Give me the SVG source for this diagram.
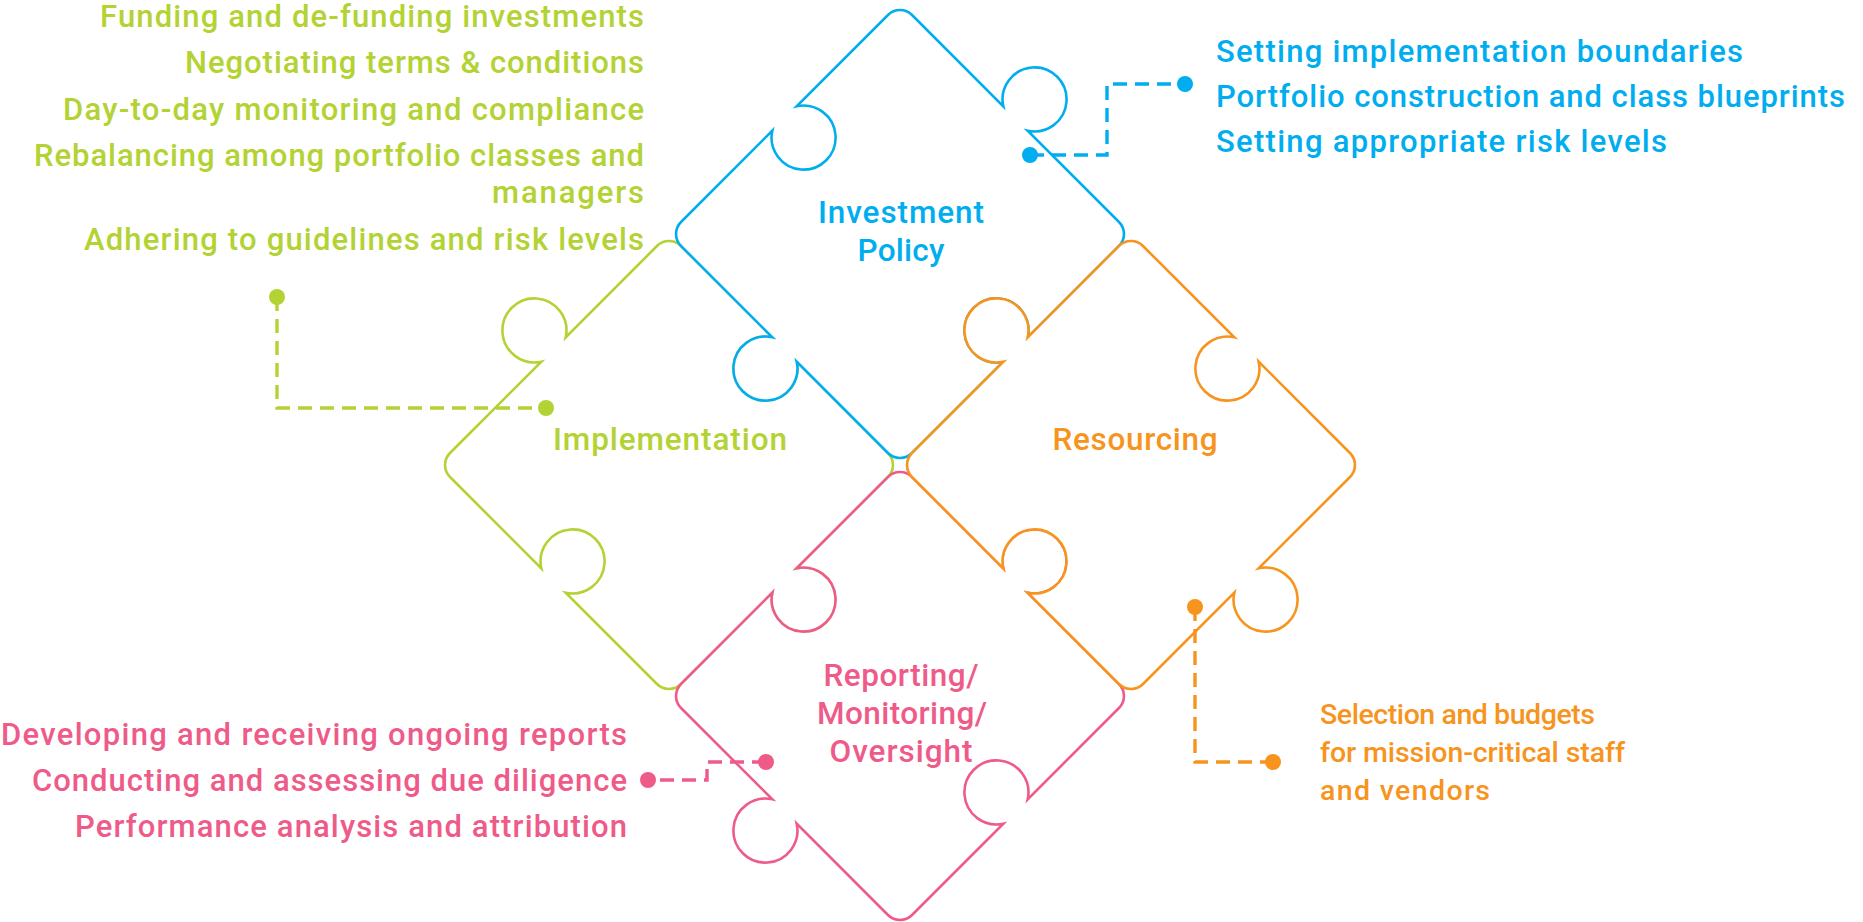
<svg xmlns="http://www.w3.org/2000/svg" xmlns:xlink="http://www.w3.org/1999/xlink" width="1863" height="922" viewBox="0 0 1863 922">
  <defs>
    <style>
      .piece { fill: #ffffff; stroke-width: 2.6; stroke-linejoin: miter; }
      .txt { font-family: Roboto, "Liberation Sans", Arial, sans-serif; font-weight: 500; font-size: 31px; }
      .txt-sm { font-family: Roboto, "Liberation Sans", Arial, sans-serif; font-weight: 500; font-size: 28.5px; }
      .label { font-family: Roboto, "Liberation Sans", Arial, sans-serif; font-weight: 500; font-size: 31.5px; text-anchor: middle; }
      .dash { fill: none; stroke-width: 3.4; stroke-dasharray: 14 8; }
      .blue { fill: #00aeef; } .blue-s { stroke: #00aeef; }
      .green { fill: #b3d234; } .green-s { stroke: #b3d234; }
      .orange { fill: #f7941d; } .orange-s { stroke: #f7941d; }
      .pink { fill: #ef5b89; } .pink-s { stroke: #ef5b89; }
    </style>
    <!-- piece outline: tab on upper-right & lower-left edges, socket on the others -->
    <path id="shapeA" d="M12.02,-218.98 L103.34,-127.66 A32,32 0 1 1 127.66,-103.34 L218.98,-12.02 A17,17 0 0 1 218.98,12.02 L127.66,103.34 A32,32 0 1 0 103.34,127.66 L12.02,218.98 A17,17 0 0 1 -12.02,218.98 L-103.34,127.66 A32,32 0 1 1 -127.66,103.34 L-218.98,12.02 A17,17 0 0 1 -218.98,-12.02 L-127.66,-103.34 A32,32 0 1 0 -103.34,-127.66 L-12.02,-218.98 A17,17 0 0 1 12.02,-218.98 Z"/>
    <!-- piece outline: tab on lower-right & upper-left edges, socket on the others -->
    <path id="shapeB" d="M12.02,-218.98 L103.34,-127.66 A32,32 0 1 0 127.66,-103.34 L218.98,-12.02 A17,17 0 0 1 218.98,12.02 L127.66,103.34 A32,32 0 1 1 103.34,127.66 L12.02,218.98 A17,17 0 0 1 -12.02,218.98 L-103.34,127.66 A32,32 0 1 0 -127.66,103.34 L-218.98,12.02 A17,17 0 0 1 -218.98,-12.02 L-127.66,-103.34 A32,32 0 1 1 -103.34,-127.66 L-12.02,-218.98 A17,17 0 0 1 12.02,-218.98 Z"/>
  </defs>

  <!-- puzzle pieces -->
  <g id="implementation">
    <use xlink:href="#shapeB" href="#shapeB" class="piece green-s" transform="translate(669,465)"/>
    <text class="label green" x="670" y="450" textLength="234">Implementation</text>
  </g>
  <g id="investment-policy">
    <use xlink:href="#shapeA" href="#shapeA" class="piece blue-s" transform="translate(900,234)"/>
    <text class="label blue" x="901" y="223" textLength="166">Investment</text>
    <text class="label blue" x="901" y="261" textLength="87">Policy</text>
  </g>
  <g id="reporting">
    <use xlink:href="#shapeA" href="#shapeA" class="piece pink-s" transform="translate(900,696)"/>
    <text class="label pink" x="901" y="686" textLength="155">Reporting/</text>
    <text class="label pink" x="902" y="724" textLength="170">Monitoring/</text>
    <text class="label pink" x="901" y="762" textLength="143">Oversight</text>
  </g>
  <g id="resourcing">
    <use xlink:href="#shapeB" href="#shapeB" class="piece orange-s" transform="translate(1131,465)"/>
    <text class="label orange" x="1135" y="450" textLength="165">Resourcing</text>
  </g>

  <!-- activity lists -->
  <g id="implementation-notes" class="txt green" text-anchor="end">
    <text x="644" y="27" textLength="544">Funding and de-funding investments</text>
    <text x="644" y="73" textLength="459">Negotiating terms &amp; conditions</text>
    <text x="644" y="119.5" textLength="581">Day-to-day monitoring and compliance</text>
    <text x="644" y="166" textLength="610">Rebalancing among portfolio classes and</text>
    <text x="644" y="203" textLength="152">managers</text>
    <text x="644" y="250" textLength="560">Adhering to guidelines and risk levels</text>
  </g>
  <g id="policy-notes" class="txt blue">
    <text x="1216" y="62" textLength="527">Setting implementation boundaries</text>
    <text x="1216" y="107" textLength="629">Portfolio construction and class blueprints</text>
    <text x="1216" y="152" textLength="451">Setting appropriate risk levels</text>
  </g>
  <g id="reporting-notes" class="txt pink" text-anchor="end">
    <text x="627" y="745" textLength="626">Developing and receiving ongoing reports</text>
    <text x="627" y="791" textLength="595">Conducting and assessing due diligence</text>
    <text x="627" y="837" textLength="552">Performance analysis and attribution</text>
  </g>
  <g id="resourcing-notes" class="txt-sm orange">
    <text x="1320" y="724" textLength="275">Selection and budgets</text>
    <text x="1320" y="762" textLength="305">for mission-critical staff</text>
    <text x="1320" y="800" textLength="170">and vendors</text>
  </g>

  <!-- leader lines -->
  <g id="connectors">
    <path class="dash blue-s" d="M1030,155 H1107 V84 H1185"/>
    <circle class="blue" cx="1030" cy="155" r="8"/>
    <circle class="blue" cx="1185" cy="84" r="8"/>
    <path class="dash green-s" d="M277,297 V408 H546"/>
    <circle class="green" cx="277" cy="297" r="8"/>
    <circle class="green" cx="546" cy="408" r="8"/>
    <path class="dash orange-s" d="M1195,607 V762 H1273"/>
    <circle class="orange" cx="1195" cy="607" r="8"/>
    <circle class="orange" cx="1273" cy="762" r="8"/>
    <path class="dash pink-s" d="M766,762 H707 V780 H648"/>
    <circle class="pink" cx="766" cy="762" r="8"/>
    <circle class="pink" cx="648" cy="780" r="8"/>
  </g>
</svg>
